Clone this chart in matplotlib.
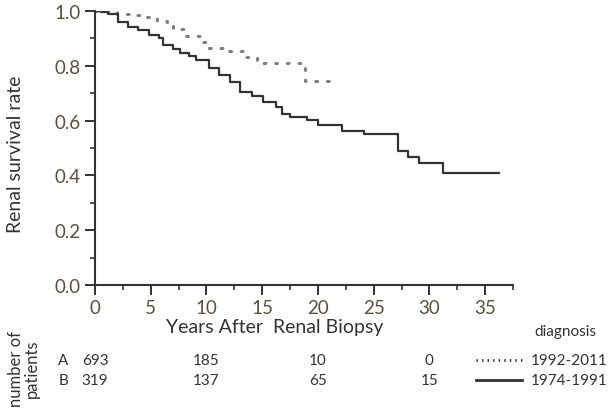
import numpy as np
import matplotlib.pyplot as plt
from matplotlib.lines import Line2D
from matplotlib.ticker import MultipleLocator

plt.rcParams['font.family'] = ['Lato', 'DejaVu Sans']

# Kaplan-Meier curves (step times in years, survival after each step)
years_a = [0, 2.0, 3.1, 4.3, 5.6, 6.5, 7.0, 8.2, 9.4, 10.0, 11.8, 13.3, 14.5, 18.8, 21.1]
surv_a = [1.0, 0.99, 0.985, 0.977, 0.965, 0.952, 0.934, 0.91, 0.886, 0.864, 0.855, 0.831, 0.81, 0.745, 0.745]

years_b = [0, 0.5, 1.2, 2.1, 3.0, 3.9, 4.8, 5.7, 6.1, 7.0, 7.6, 8.4, 9.1, 10.2, 11.1, 12.1,
           13.0, 14.1, 15.1, 16.2, 16.8, 17.5, 19.0, 20.0, 22.2, 24.1, 27.2, 28.1, 29.1, 31.2, 36.2]
surv_b = [1.0, 0.995, 0.99, 0.96, 0.94, 0.93, 0.912, 0.90, 0.875, 0.861, 0.846, 0.834, 0.822, 0.792,
          0.766, 0.742, 0.705, 0.689, 0.667, 0.649, 0.624, 0.614, 0.603, 0.585, 0.563, 0.55, 0.49,
          0.468, 0.444, 0.409, 0.409]

# number at risk table
risk_years = [0, 10, 20, 30]
risk_a = [693, 185, 10, 0]
risk_b = [319, 137, 65, 15]
groups = ['A', 'B']
diag_labels = ['1992-2011', '1974-1991']

dark = '#333333'
dot_color = '#808080'

fig = plt.figure(figsize=(6.08, 4.10), dpi=100)
ax = fig.add_axes([95 / 608, 1 - 286 / 410, 418 / 608, 274 / 410])

ax.step(years_a, surv_a, where='post', color=dot_color, lw=2.2, linestyle=(0, (0.6, 3.2)),
        dash_capstyle='round')
ax.step(years_b, surv_b, where='post', color=dark, lw=1.6)

ax.set_xlim(0, 37.5)
ax.set_ylim(0, 1.0)
ax.xaxis.set_major_locator(MultipleLocator(5))
ax.xaxis.set_minor_locator(MultipleLocator(2.5))
ax.yaxis.set_major_locator(MultipleLocator(0.2))
ax.yaxis.set_minor_locator(MultipleLocator(0.1))
ax.yaxis.set_major_formatter(plt.FuncFormatter(lambda v, p: f'{v:.1f}'))

for s in ['top', 'right']:
    ax.spines[s].set_visible(False)
for s in ['left', 'bottom']:
    ax.spines[s].set_color(dark)
    ax.spines[s].set_linewidth(1.5)

ax.tick_params(which='major', length=7, width=1.4, color=dark, labelsize=13.5,
               labelcolor='#5a5040', pad=3)
ax.tick_params(which='minor', length=3.5, width=1.2, color=dark)

ax.set_ylabel('Renal survival rate', fontsize=14, color=dark)
ax.yaxis.set_label_coords((24 - 95) / 418, 0.48)

fig.text(275 / 608, 1 - 328 / 410, 'Years After  Renal Biopsy', fontsize=14, color=dark,
         ha='center', va='center')
fig.text(565 / 608, 1 - 332 / 410, 'diagnosis', fontsize=11, color=dark, ha='center', va='center')
fig.text(24 / 608, 1 - 369 / 410, 'number of\npatients', fontsize=12, color=dark, rotation=90,
         ha='center', va='center', linespacing=1.0)

row_y = [361, 381]
for g, counts, y in zip(groups, [risk_a, risk_b], row_y):
    fig.text(63 / 608, 1 - y / 410, g, fontsize=11, color=dark, ha='center', va='center')
    for yr, n in zip(risk_years, counts):
        x_fig = (95 + yr * 418 / 37.5) / 608
        fig.text(x_fig, 1 - y / 410, str(n), fontsize=11, color=dark, ha='center', va='center')

# legend
fig.add_artist(Line2D([476 / 608, 522 / 608], [1 - 361 / 410] * 2, color=dark, lw=2,
                      linestyle=(0, (0.5, 1.5))))
fig.add_artist(Line2D([476 / 608, 522 / 608], [1 - 381 / 410] * 2, color=dark, lw=2))
for lab, y in zip(diag_labels, row_y):
    fig.text(531 / 608, 1 - y / 410, lab, fontsize=11, color=dark, ha='left', va='center')

fig.savefig('out.png', dpi=100)
